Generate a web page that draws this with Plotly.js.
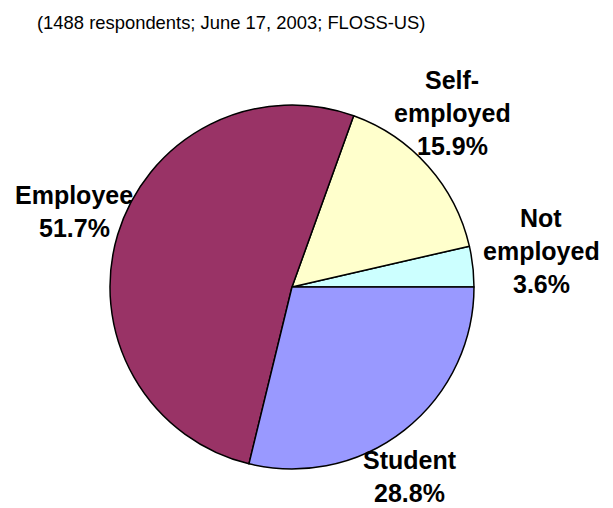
<!DOCTYPE html>
<html>
<head>
<meta charset="utf-8">
<script src="https://cdn.plot.ly/plotly-3.0.1.min.js"></script>
<style>
html,body{margin:0;padding:0;background:#fff;}
#chart{width:613px;height:508px;}
</style>
</head>
<body>
<div id="chart"></div>
<script>
// Data
const categories = ["Not employed", "Self-employed", "Employee", "Student"];
const values = [3.6, 15.9, 51.7, 28.8];
const labelLines = [["Not", "employed"], ["Self-", "employed"], ["Employee"], ["Student"]];
const colors = ["#CCFFFF", "#FFFFCC", "#993366", "#9999FF"];
const subtitle = "(1488 respondents; June 17, 2003; FLOSS-US)";

// Label layout (pixel centres of each text block's first line)
const W = 613, H = 508;
const labelPos = [
  {x: 541, y: 218},
  {x: 452, y: 80},
  {x: 74, y: 195},
  {x: 410, y: 460}
];
const lineGap = 33;

const annotations = [];
categories.forEach((c, i) => {
  const lines = labelLines[i].concat([values[i].toFixed(1) + "%"]);
  lines.forEach((t, k) => {
    annotations.push({
      text: "<b>" + t + "</b>", showarrow: false, xref: "paper", yref: "paper",
      x: labelPos[i].x / W, y: 1 - (labelPos[i].y + k * lineGap) / H,
      xanchor: "center", yanchor: "middle",
      font: {family: "Liberation Sans, Arial, sans-serif", size: 25, color: "#000"}
    });
  });
});
annotations.push({
  text: subtitle, showarrow: false, xref: "paper", yref: "paper",
  x: 231 / W, y: 1 - 22 / H, xanchor: "center", yanchor: "middle",
  font: {family: "Liberation Sans, Arial, sans-serif", size: 18.4, color: "#000"}
});

const total = values.reduce((a, b) => a + b, 0);
const cx = 292, cy = 287, r = 182;
const trace = {
  type: "pie",
  labels: categories,
  values: values,
  sort: false,
  direction: "counterclockwise",
  // first slice begins at 3 o'clock and runs counterclockwise
  rotation: 90 - 360 * values[0] / total,
  textinfo: "none",
  hoverinfo: "label+percent",
  marker: {colors: colors, line: {color: "#000", width: 1.5}},
  domain: {x: [(cx - r) / W, (cx + r) / W], y: [1 - (cy + r) / H, 1 - (cy - r) / H]}
};

Plotly.newPlot("chart", [trace], {
  width: W, height: H,
  margin: {l: 0, r: 0, t: 0, b: 0},
  showlegend: false,
  paper_bgcolor: "#fff",
  annotations: annotations
}, {staticPlot: true});
</script>
</body>
</html>
